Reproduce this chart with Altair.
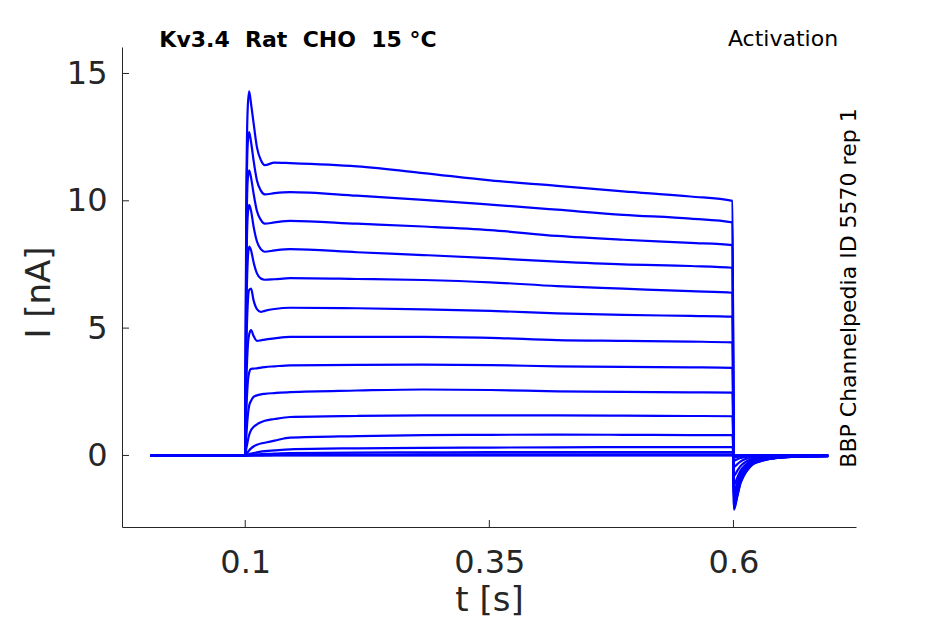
import altair as alt
import pandas as pd

T_KNOTS = [0.0027, 0.0999, 0.1010, 0.1025, 0.1040, 0.1060, 0.1085, 0.1120, 0.1160, 0.1200,
           0.1300, 0.1460, 0.2144, 0.2824, 0.3510, 0.4194, 0.4870, 0.5560, 0.5990,
           0.6005, 0.6040, 0.6072, 0.6100, 0.6141, 0.6205, 0.6307, 0.6450, 0.6553, 0.6750, 0.6970]

# current (nA) of each sweep at those knots
trace_01 = [0, 0, 9.5, 13.6, 14.3, 13.8, 13.07, 12.1, 11.6, 11.4, 11.5, 11.48, 11.35, 11.09, 10.8, 10.59, 10.37, 10.17, 10.0,
            -2.13, -1.6, -1.1, -0.85, -0.59, -0.33, -0.2, -0.1, -0.07, -0.04, -0.03]
trace_02 = [0, 0, 8.5, 12.2, 12.7, 12.3, 11.6, 10.8, 10.4, 10.25, 10.3, 10.34, 10.2, 10.04, 9.85, 9.65, 9.45, 9.3, 9.15,
            -2.06, -1.55, -1.06, -0.82, -0.57, -0.32, -0.19, -0.1, -0.07, -0.04, -0.03]
trace_03 = [0, 0, 7.5, 10.8, 11.2, 10.9, 10.3, 9.6, 9.25, 9.1, 9.15, 9.21, 9.1, 8.99, 8.85, 8.62, 8.47, 8.35, 8.26,
            -2.0, -1.5, -1.03, -0.8, -0.55, -0.31, -0.18, -0.09, -0.06, -0.04, -0.03]
trace_04 = [0, 0, 6.5, 9.4, 9.84, 9.6, 9.0, 8.4, 8.1, 8.0, 8.05, 8.1, 7.98, 7.87, 7.75, 7.61, 7.5, 7.44, 7.37,
            -1.93, -1.45, -1.0, -0.77, -0.53, -0.3, -0.17, -0.09, -0.06, -0.04, -0.03]
trace_05 = [0, 0, 5.0, 7.6, 8.2, 8.05, 7.6, 7.15, 6.95, 6.9, 6.92, 6.96, 6.93, 6.89, 6.8, 6.65, 6.55, 6.45, 6.39,
            -1.85, -1.38, -0.95, -0.73, -0.5, -0.28, -0.16, -0.08, -0.05, -0.03, -0.02]
trace_06 = [0, 0, 3.8, 5.9, 6.5, 6.55, 6.1, 5.75, 5.64, 5.68, 5.75, 5.8, 5.78, 5.74, 5.68, 5.58, 5.52, 5.48, 5.45,
            -1.75, -1.3, -0.9, -0.7, -0.47, -0.26, -0.15, -0.08, -0.05, -0.03, -0.02]
trace_07 = [0, 0, 2.6, 4.2, 4.75, 4.92, 4.7, 4.5, 4.52, 4.55, 4.6, 4.66, 4.66, 4.66, 4.62, 4.53, 4.5, 4.47, 4.44,
            -1.6, -1.2, -0.83, -0.64, -0.43, -0.24, -0.14, -0.07, -0.05, -0.03, -0.02]
trace_08 = [0, 0, 1.6, 2.8, 3.25, 3.4, 3.41, 3.42, 3.45, 3.47, 3.5, 3.54, 3.56, 3.57, 3.55, 3.5, 3.48, 3.46, 3.44,
            -1.4, -1.05, -0.72, -0.56, -0.38, -0.21, -0.12, -0.06, -0.04, -0.03, -0.02]
trace_09 = [0, 0, 0.7, 1.5, 1.95, 2.15, 2.3, 2.36, 2.4, 2.42, 2.45, 2.49, 2.55, 2.59, 2.57, 2.52, 2.5, 2.48, 2.47,
            -1.15, -0.86, -0.6, -0.46, -0.31, -0.17, -0.1, -0.05, -0.04, -0.02, -0.02]
trace_10 = [0, 0, 0.25, 0.55, 0.8, 1.0, 1.12, 1.22, 1.3, 1.36, 1.43, 1.51, 1.55, 1.57, 1.57, 1.57, 1.56, 1.55, 1.54,
            -0.8, -0.6, -0.42, -0.32, -0.22, -0.12, -0.07, -0.04, -0.03, -0.02, -0.01]
trace_11 = [0, 0, 0.05, 0.12, 0.2, 0.28, 0.35, 0.42, 0.47, 0.5, 0.58, 0.7, 0.76, 0.8, 0.81, 0.82, 0.81, 0.8, 0.8,
            -0.45, -0.34, -0.24, -0.18, -0.12, -0.07, -0.04, -0.02, -0.02, -0.01, -0.01]
trace_12 = [0, 0, 0.01, 0.03, 0.05, 0.07, 0.09, 0.12, 0.15, 0.17, 0.2, 0.24, 0.28, 0.3, 0.31, 0.32, 0.33, 0.33, 0.33,
            -0.2, -0.15, -0.1, -0.08, -0.05, -0.03, -0.02, -0.01, -0.01, -0.01, 0]
trace_13 = [0, 0, 0, 0.01, 0.01, 0.02, 0.03, 0.04, 0.05, 0.06, 0.07, 0.09, 0.11, 0.12, 0.13, 0.13, 0.13, 0.13, 0.13,
            -0.08, -0.06, -0.04, -0.03, -0.02, -0.01, 0, 0, 0, 0, 0]
trace_14 = [0, 0, 0, 0, 0, 0, 0.01, 0.01, 0.01, 0.02, 0.02, 0.03, 0.03, 0.04, 0.04, 0.04, 0.04, 0.04, 0.04,
            -0.03, -0.02, -0.01, 0, 0, 0, 0, 0, 0, 0, 0]
trace_15 = [0, 0, 0, 0, 0, 0, 0, 0, 0, 0, 0.01, 0.01, 0.01, 0.01, 0.01, 0.01, 0.01, 0.01, 0.01,
            0, 0, 0, 0, 0, 0, 0, 0, 0, 0, 0]
trace_16 = [0, 0, 0, 0, 0, 0, 0, 0, 0, 0, 0, 0, 0, 0, 0, 0, 0, 0, 0,
            0, 0, 0, 0, 0, 0, 0, 0, 0, 0, 0]

X_TICKS = [0.1, 0.35, 0.6]
Y_TICKS = [0, 5, 10, 15]
X_DOMAIN = [-0.0262, 0.7255]
Y_DOMAIN = [-2.81, 16.04]

NB = "\u00a0"
TITLE = "Kv3.4" + NB + " Rat" + NB + " CHO" + NB + " 15 °C"
PROTOCOL = "Activation"
SIDE = "BBP Channelpedia ID 5570 rep 1"

traces = [trace_01, trace_02, trace_03, trace_04, trace_05, trace_06, trace_07, trace_08,
          trace_09, trace_10, trace_11, trace_12, trace_13, trace_14, trace_15, trace_16]
rows = []
for k, tr in enumerate(traces):
    for t, v in zip(T_KNOTS, tr):
        rows.append({"t": t, "I": v, "sweep": k})
df = pd.DataFrame(rows)

W, H = 734, 480
FONT = "DejaVu Sans"
AX = "#262626"

xs = alt.Scale(domain=X_DOMAIN, nice=False, zero=False)
ys = alt.Scale(domain=Y_DOMAIN, nice=False, zero=False)

x_axis = alt.Axis(values=X_TICKS, format="~g", title="t [s]", grid=False, ticks=False, tickSize=0,
                  domainColor=AX,
                  labelColor=AX, labelFont=FONT, labelFontSize=32, labelPadding=20,
                  titleColor=AX, titleFont=FONT, titleFontSize=34, titleFontWeight="normal",
                  titleX=367, titleY=73, titleBaseline="middle", titleAlign="center")
y_axis = alt.Axis(values=Y_TICKS, format="~g", title="I [nA]", grid=False, ticks=False, tickSize=0,
                  domainColor=AX,
                  labelColor=AX, labelFont=FONT, labelFontSize=32, labelPadding=15,
                  titleColor=AX, titleFont=FONT, titleFontSize=34, titleFontWeight="normal",
                  titleAngle=270, titleX=-83, titleY=245, titleBaseline="middle", titleAlign="center")

lines = alt.Chart(df).mark_line(color="#0000ff", strokeWidth=2.2, interpolate="monotone").encode(
    x=alt.X("t:Q", scale=xs, axis=x_axis),
    y=alt.Y("I:Q", scale=ys, axis=y_axis),
    detail="sweep:N",
)

xticks = alt.Chart(pd.DataFrame({"t": X_TICKS})).mark_rule(color=AX, strokeWidth=1).encode(
    x=alt.X("t:Q", scale=xs), y=alt.value(H), y2=alt.value(H - 7))
yticks = alt.Chart(pd.DataFrame({"I": Y_TICKS})).mark_rule(color=AX, strokeWidth=1).encode(
    y=alt.Y("I:Q", scale=ys), x=alt.value(0), x2=alt.value(7))

title = alt.Chart(pd.DataFrame({"s": [TITLE]})).mark_text(
    font=FONT, fontSize=22, fontWeight="bold", color="#000000", align="center", baseline="middle"
).encode(text="s:N", x=alt.value(176), y=alt.value(-7))
proto = alt.Chart(pd.DataFrame({"s": [PROTOCOL]})).mark_text(
    font=FONT, fontSize=22, color="#000000", align="center", baseline="middle"
).encode(text="s:N", x=alt.value(661), y=alt.value(-8))
side = alt.Chart(pd.DataFrame({"s": [SIDE]})).mark_text(
    font=FONT, fontSize=22, color="#000000", align="center", baseline="middle", angle=270
).encode(text="s:N", x=alt.value(727), y=alt.value(241))

chart = alt.layer(lines, xticks, yticks, title, proto, side).properties(
    width=W, height=H,
    padding={"left": 114, "top": 39, "right": 80, "bottom": 96},
    autosize=alt.AutoSizeParams(type="none"),
    background="#ffffff",
).configure_view(stroke=None)

chart.save("out.html", embed_options={"renderer": "svg", "actions": False})
